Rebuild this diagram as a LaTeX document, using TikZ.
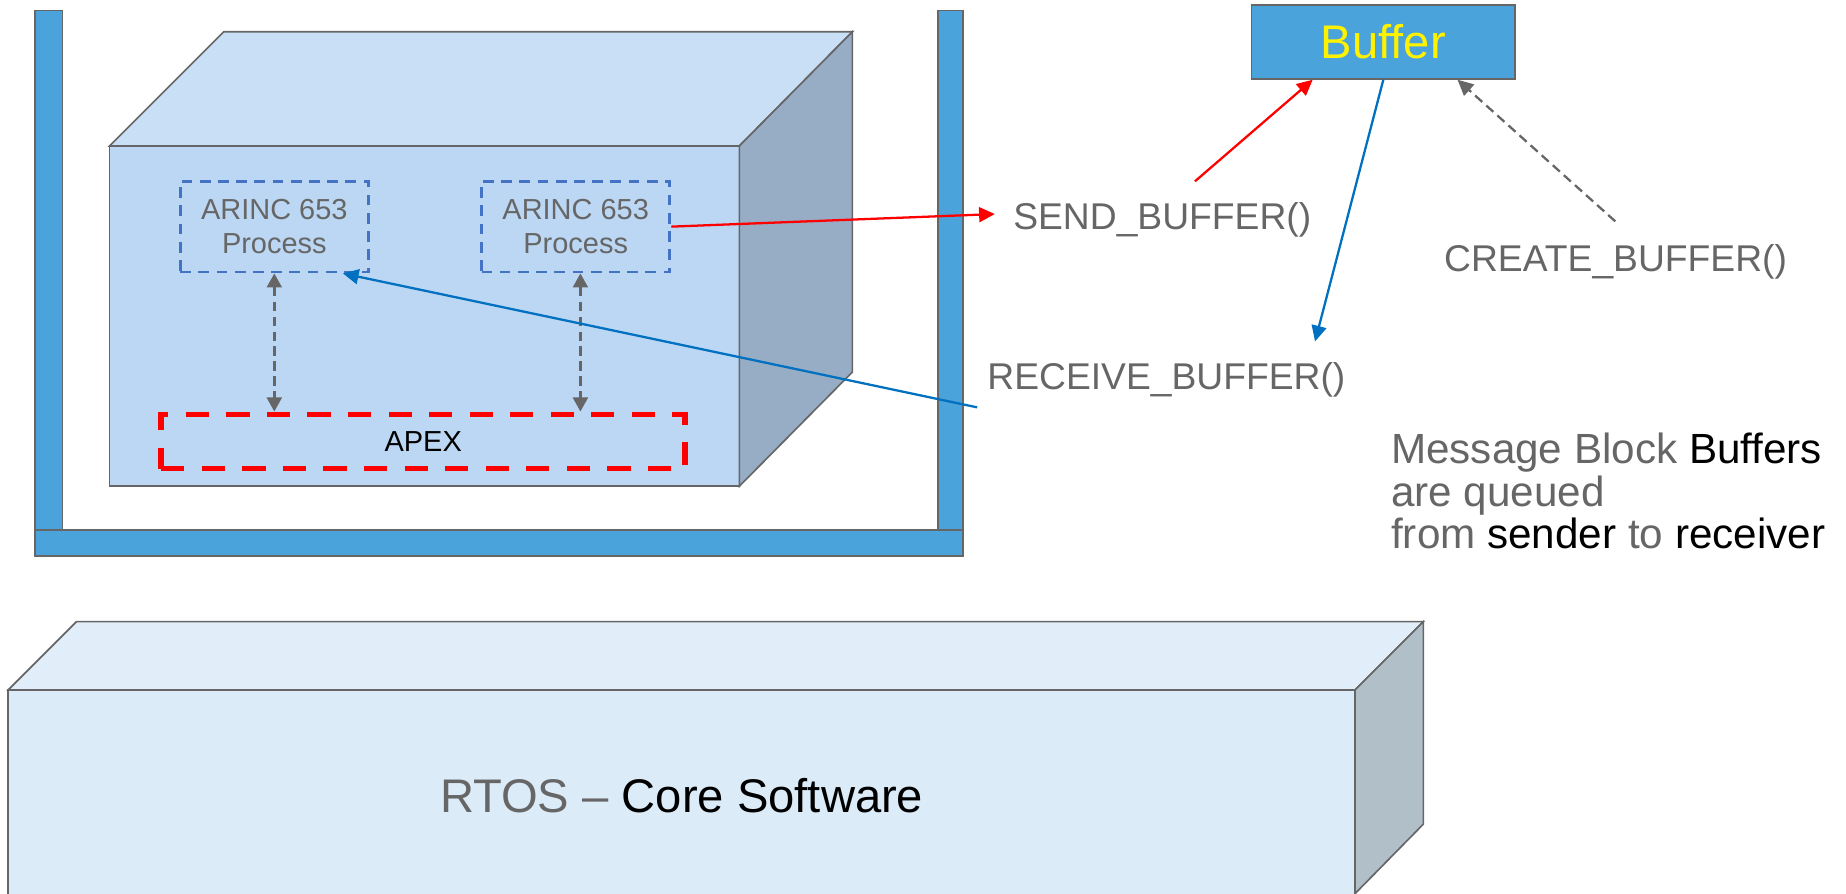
\documentclass[tikz,border=0pt]{standalone}
\usepackage{fontspec}
\setmainfont{Liberation Sans}
\usepackage{xcolor}
\usetikzlibrary{arrows.meta}

\definecolor{wallblue}{HTML}{4BA3DB}
\definecolor{edgegrey}{HTML}{666666}
\definecolor{txtgrey}{HTML}{666666}
\definecolor{procblue}{HTML}{4472C4}
\definecolor{callblue}{HTML}{0070C0}
\definecolor{partfront}{HTML}{BBD7F3}
\definecolor{parttop}{HTML}{C9DFF5}
\definecolor{partside}{HTML}{97ADC6}
\definecolor{osfront}{HTML}{DCEBF8}
\definecolor{ostop}{HTML}{E1EEF9}
\definecolor{osside}{HTML}{B1BFC8}

\begin{document}
\begin{tikzpicture}[
    tip/.style={-{Triangle[length=3.8pt,width=3.6pt]}, line width=0.55pt},
    twotips/.style={{Triangle[length=3.4pt,width=3.6pt]}-{Triangle[length=3.4pt,width=3.6pt]}, line width=0.6pt},
    greydash/.style={edgegrey, dash pattern=on 2.3pt off 1.3pt},
    proc/.style={draw=procblue, dash pattern=on 2.6pt off 1.8pt, line width=0.7pt,
        minimum width=1.6cm, minimum height=0.77cm, text=txtgrey, align=center,
        font=\fontsize{7}{8.2}\selectfont},
    call/.style={anchor=base west, inner sep=0pt, text=txtgrey, font=\fontsize{9}{10}\selectfont}
]
    \useasboundingbox (0,0) rectangle (15.68,-7.59);

    % Partition wall
    \draw[edgegrey, fill=wallblue, line width=0.4pt] (0.30,-0.09) rectangle (0.53,-4.50);
    \draw[edgegrey, fill=wallblue, line width=0.4pt] (7.97,-0.09) rectangle (8.18,-4.50);
    \draw[edgegrey, fill=wallblue, line width=0.4pt] (0.30,-4.50) rectangle (8.18,-4.72);

    % Partition cube
    \draw[edgegrey, fill=partfront, line width=0.4pt] (0.93,-1.24) rectangle (6.28,-4.13);
    \draw[edgegrey, fill=parttop, line width=0.4pt] (0.93,-1.24) -- (1.90,-0.27) -- (7.24,-0.27) -- (6.28,-1.24) -- cycle;
    \draw[edgegrey, fill=partside, line width=0.4pt] (6.28,-1.24) -- (7.24,-0.27) -- (7.24,-3.16) -- (6.28,-4.13) -- cycle;

    % RTOS cube
    \begin{scope}
        \clip (0,0) rectangle (15.68,-7.59);
        \draw[edgegrey, fill=osfront, line width=0.4pt] (0.07,-5.86) rectangle (11.51,-7.80);
        \draw[edgegrey, fill=ostop, line width=0.4pt] (0.07,-5.86) -- (0.65,-5.28) -- (12.09,-5.28) -- (11.51,-5.86) -- cycle;
        \draw[edgegrey, fill=osside, line width=0.4pt] (11.51,-5.86) -- (12.09,-5.28) -- (12.09,-7.00) -- (11.51,-7.59) -- cycle;
    \end{scope}
    \node[font=\fontsize{11.4}{13}\selectfont] (rtos) at (5.79,-6.76) {\textcolor{txtgrey}{RTOS –} Core Software};

    % Processes and APEX
    \node[proc] (proc1) at (2.33,-1.925) {ARINC 653\\Process};
    \node[proc] (proc2) at (4.89,-1.925) {ARINC 653\\Process};
    \node[draw=red, dash pattern=on 5.6pt off 4.2pt, line width=1.4pt, minimum width=4.45cm,
        minimum height=0.46cm, font=\fontsize{7}{8}\selectfont] (apex) at (3.595,-3.75) {APEX};

    % Buffer
    \node[draw=edgegrey, fill=wallblue, line width=0.4pt, minimum width=2.24cm, minimum height=0.63cm,
        text=yellow, font=\fontsize{11.4}{13}\selectfont] (buffer) at (11.75,-0.355) {Buffer};

    % Services
    \node[call] (send) at (8.60,-1.95) {SEND\_BUFFER()};
    \node[call] (create) at (12.26,-2.31) {CREATE\_BUFFER()};
    \node[call] (receive) at (8.38,-3.31) {RECEIVE\_BUFFER()};
    \node[anchor=north west, inner sep=0pt, align=left, text=txtgrey, font=\fontsize{10.2}{10.3}\selectfont] (msg)
        at (11.81,-3.67) {Message Block \textcolor{black}{Buffers}\\are queued\\from \textcolor{black}{sender} to \textcolor{black}{receiver}};

    \coordinate (sendtail) at (10.15,-1.54);
    \coordinate (rcvtip) at (11.17,-2.90);
    \coordinate (createtail) at (13.72,-1.88);
    \coordinate (rcvtail) at (8.30,-3.46);

    % Calls
    \draw[twotips, greydash] (proc1.south) -- (proc1.south |- apex.north);
    \draw[twotips, greydash] ([xshift=0.4mm]proc2.south) -- ([xshift=0.4mm]proc2.south |- apex.north);
    \draw[tip, red] (proc2.east) -- ([shift={(-0.15,0.05)}]send.west);
    \draw[tip, red] (sendtail) -- ([xshift=-6mm]buffer.south);
    \draw[tip, callblue] (buffer.south) -- (rcvtip);
    \draw[tip, greydash] (createtail) -- ([xshift=6.3mm]buffer.south);
    \draw[tip, callblue] (rcvtail) -- ([xshift=-2.3mm]proc1.south east);
\end{tikzpicture}
\end{document}
